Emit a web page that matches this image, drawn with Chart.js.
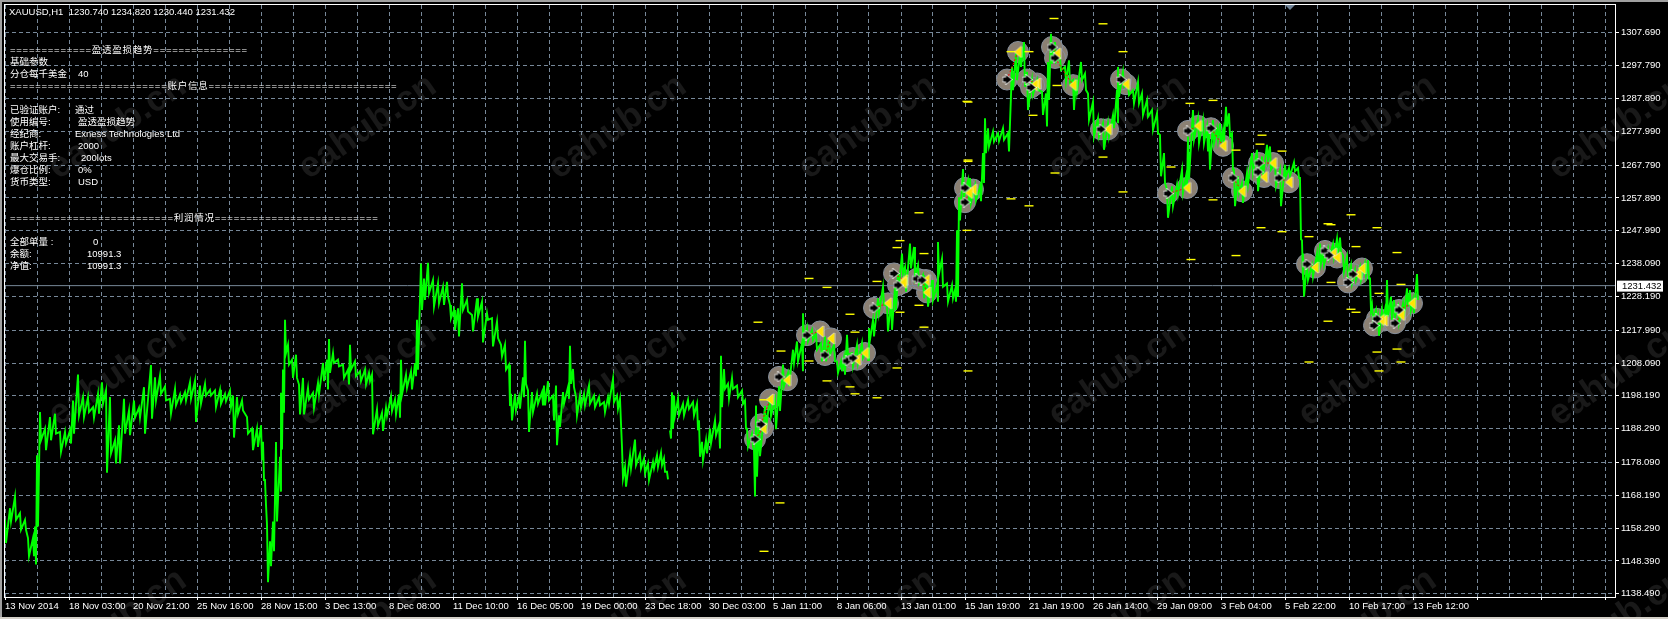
<!DOCTYPE html>
<html><head><meta charset="utf-8">
<style>html,body{margin:0;padding:0;background:#000;overflow:hidden}canvas{display:block}</style>
<script src="https://cdn.jsdelivr.net/npm/chart.js@4"></script>
</head><body><canvas id="c" width="1668" height="619"></canvas>
<script>
const priceTicks=[1307.69,1297.79,1287.89,1277.99,1267.79,1257.89,1247.99,1238.09,1228.19,1217.99,1208.09,1198.19,1188.29,1178.09,1168.19,1158.29,1148.39,1138.49];
const timeLabels=["13 Nov 2014","18 Nov 03:00","20 Nov 21:00","25 Nov 16:00","28 Nov 15:00","3 Dec 13:00","8 Dec 08:00","11 Dec 10:00","16 Dec 05:00","19 Dec 00:00","23 Dec 18:00","30 Dec 03:00","5 Jan 11:00","8 Jan 06:00","13 Jan 01:00","15 Jan 19:00","21 Jan 19:00","26 Jan 14:00","29 Jan 09:00","3 Feb 04:00","5 Feb 22:00","10 Feb 17:00","13 Feb 12:00"];
const lastPrice=1231.432;
const barNumber=[
5,10,15,20,25,28,33,35,37,40,
45,50,55,60,65,70,73,78,83,88,
93,98,102,106,110,115,119,124,129,134,
139,144,151,155,160,165,170,175,180,185,
190,195,200,205,210,215,220,225,230,233,
237,242,247,252,257,261,263,265,267,270,
273,276,280,281,283,285,288,292,296,299,
303,308,313,318,323,327,329,333,338,343,
348,350,355,360,365,369,372,377,382,386,
391,395,399,401,406,411,415,417,421,424,
428,433,438,443,447,450,454,458,462,467,
472,477,482,487,492,497,501,505,509,511,
515,519,523,525,528,532,537,542,544,548,
553,556,559,563,568,570,573,576,580,584,
589,594,599,604,608,613,617,620,622,625,
630,635,640,644,648,653,657,661,664,667,
668,670,672,674,678,683,688,693,697,699,
702,706,710,715,719,721,724,728,732,737,
742,745,747,752,754,756,759,765,770,775,
779,783,788,793,797,802,803,807,812,816,
821,825,829,834,837,841,844,847,852,857,
862,867,869,873,878,883,887,891,895,898,
902,905,910,914,918,923,927,932,937,938,
942,947,952,955,957,959,963,968,970,975,
980,983,985,988,993,998,1003,1008,1012,1016,
1020,1024,1027,1032,1037,1042,1046,1048,1051,1055,
1060,1065,1069,1073,1076,1081,1085,1088,1093,1098,
1103,1108,1113,1117,1118,1123,1128,1133,1138,1142,
1147,1152,1157,1160,1164,1167,1172,1177,1182,1186,
1188,1193,1198,1203,1207,1209,1213,1217,1220,1223,
1226,1229,1232,1234,1238,1242,1247,1252,1257,1262,
1267,1270,1275,1280,1285,1289,1294,1298,1300,1302,
1303,1307,1312,1317,1320,1323,1328,1333,1337,1340,
1343,1347,1351,1355,1360,1365,1368,1370,1372,1376,
1378,1382,1385,1387,1391,1394,1398,1403,1407,1410,
1413,1417];
const barHigh=[
1160.8,1164.3,1167.8,1162.8,1160.8,1155.3,1155.3,1158.8,1180.3,1193.3,
1188.3,1191.8,1192.8,1187.3,1187.3,1187.8,1196.8,1204.6,1197.8,1197.8,
1194.8,1198.8,1202.3,1199.8,1197.8,1184.8,1189.3,1197.3,1193.8,1196.8,
1194.6,1200.8,1207.5,1203.8,1204.3,1201,1197.3,1200.3,1198.6,1199.3,
1202.3,1202.8,1201.3,1201.8,1200,1199.8,1200,1198.8,1199.8,1198.3,
1197.8,1196.8,1191.8,1188.3,1188.3,1189.3,1184.3,1172.8,1159.3,1154.3,
1160.3,1184.3,1179.8,1199.1,1206.1,1221.1,1213.6,1209.1,1210.6,1201.6,
1203.6,1200.6,1199.1,1202.1,1208.1,1209.1,1215.3,1211.1,1209.1,1207.6,
1206.1,1213.6,1208.6,1205.6,1206.1,1205.1,1204.6,1194.1,1193.1,1194.6,
1198.1,1197.1,1198.6,1209.1,1204.6,1205.6,1208.1,1221.1,1238.1,1233.6,
1238.3,1233.1,1232.1,1231.1,1232.6,1225.6,1224.1,1224.6,1232.1,1227.1,
1222.6,1227.6,1226.6,1223.1,1221.6,1220.6,1213.6,1213.6,1207.6,1198.8,
1198.8,1197.8,1203.8,1214.8,1199.8,1199.3,1198.8,1199.3,1201.3,1202.6,
1198.3,1201.3,1192.3,1199.3,1200.8,1213.3,1206.3,1197.8,1198.3,1198.8,
1201.3,1198.3,1197.8,1196.3,1197.8,1203.3,1198.3,1197.3,1182.8,1176.8,
1180.3,1185,1180.8,1179.3,1177.8,1178.3,1180.3,1181,1179.3,1175.3,
null,1187.8,1199.3,1198.3,1197.3,1195.8,1197,1196.3,1195.8,1190.8,
1184.3,1184.8,1188.3,1190.8,1189.3,1210.3,1206.3,1201.8,1203.6,1201.3,
1199.8,1196.8,1188.3,1186.8,1181.8,1195.3,1191,1195.1,1198.1,1197.1,
1201.1,1207.6,1205.1,1212.1,1214.6,1214.1,1223.1,1218.6,1218,1217.1,
1214.1,1216.1,1215.6,1213.6,1208.6,1208.6,1209.6,1216.6,1211.1,1213.6,
1214.1,1212,1218.6,1221.1,1227.6,1231.1,1225.6,1226.6,1231.1,1235.1,
1241.1,1237.1,1244.1,1243.1,1237.6,1234.6,1234.1,1233.1,1231.6,1244.6,
1239.6,1232.1,1231.6,1230.1,1248.1,1258.1,1266.6,1263.1,1263.9,1261.6,
1261.4,1271.4,1281.9,1278.9,1277.9,1277.4,1278.9,1277.4,1297.4,1301.4,
1301.4,1304.9,1295.9,1293.4,1293.4,1289.9,1289.4,1298.9,1307.4,1304.9,
1300.4,1297.4,1299.4,1293.4,1293.9,1298.9,1295.4,1289.4,1286.9,1281.9,
1280.4,1280.4,1282.9,1290.4,1297.4,1295.9,1292.4,1290.4,1292.9,1289.4,
1287.4,1284.4,1283.4,1276.9,1271.4,1260.4,1261.4,1261.9,1266.4,1264.4,
1276.4,1284.4,1281.9,1281.4,1279.4,1277.4,1281.4,1278.9,1280.4,1278.4,
1285.4,1283.4,1277.4,1266.4,1264.4,1262.4,1265.4,1271.4,1272.4,1270.4,
1273.9,1273.4,1268.4,1266.4,1267.9,1266.9,1268.6,1266.9,1263.9,1245.1,
1241.1,1238.1,1237.6,1241.1,1244.1,1241.1,1242.6,1244.1,1245.6,1245.9,
1240.6,1240.1,1237.6,1236.1,1237.1,1238.1,1239.1,1233.6,1225.6,1224.1,
1222.1,1224.1,1224.1,1233.1,1228.1,1227.1,1225.1,1226.1,1230.6,1230.1,
1227.1,1234.9];
const barLow=[
1153.8,1160.3,1160.8,1157.8,1157.8,1149.8,1149.8,1147.3,1158.8,1184.8,
1181.8,1184.8,1186.8,1181.3,1183.8,1183.8,1186.8,1192.3,1191.8,1193.3,
1191.6,1192.8,1195.8,1175,1180.8,1177.8,1177.8,1186.8,1186.3,1191.6,
1191.6,1186.8,1191.3,1196.8,1198.8,1196.8,1192.8,1195.3,1196.3,1196.8,
1197.3,1190.3,1195.8,1198.3,1198.3,1194.8,1195.8,1196.6,1194.8,1185.6,
1192.8,1193.8,1186.8,1181.8,1182.8,1178.8,1172.8,1165.3,1142,1146.8,
1151.3,1160.3,1169.3,1182,1193.1,1211.1,1207.6,1203.6,1203.6,1192.6,
1192.6,1197.1,1194.6,1198.6,1202.6,1200.1,1205.1,1208.1,1207.1,1203.6,
1201.6,1206.1,1204.1,1202.6,1201.6,1202.6,1186.6,1189.1,1187.6,1192.1,
1193.6,1192.6,1191.6,1198.6,1200.6,1200.1,1204.1,1206.1,1224.1,1227.1,
1229.1,1225.1,1226.1,1225.6,1228.1,1221.6,1218.1,1216.1,1224.1,1223.6,
1217.6,1222.1,1214.3,1221.1,1213.1,1215.6,1210.1,1206.1,1195.1,1190.8,
1193.8,1194.3,1197.8,1201.8,1187.3,1193.3,1195.8,1195.3,1195.3,1196.8,
1190.8,1183.3,1188.8,1195.8,1197.3,1201.8,1200.8,1192.3,1194.8,1195.3,
1195.8,1194.8,1195.3,1193.3,1195.8,1196.3,1194.3,1189.8,1173.3,1170.8,
1176.3,1177.3,1176.3,1174.8,1172.8,1176.3,1176.8,1177.3,1175.3,1173,
null,1185.3,1188.3,1192.3,1192.3,1192.3,1194.3,1192.3,1187.8,1179.8,
1178.8,1180.8,1183.8,1186.3,1182.3,1194.8,1200.3,1197.3,1200.3,1197.8,
1195.8,1188.3,1182.8,1182.8,1167.8,1173.8,1180,1188.1,1192.1,1188.1,
1193.6,1201.1,1201.1,1208.1,1208.6,1205.6,1214.1,1214.6,1215,1212.1,
1208.6,1208.6,1210.6,1208.6,1205.1,1205.6,1204.6,1210.6,1207.1,1208.1,
1209.6,1209,1215.1,1216.1,1223.1,1225.6,1217.6,1218.1,1224.1,1230.6,
1235.1,1229.6,1236.6,1234.1,1232.1,1227.6,1225.1,1227.1,1226.6,1235.1,
1231.1,1226.6,1227.6,1226.6,1228.1,1251.1,1258.1,1256.1,1256.4,1257.1,
1256.9,1262.4,1271.4,1273.4,1274.9,1275,1275.4,1271.9,1290.4,1293.4,
1297.4,1291.4,1284.4,1289,1290.4,1282.9,1279.4,1287.4,1298.4,1298.9,
1296.4,1292.9,1292.4,1284.4,1289.9,1293.4,1290.4,1281.4,1276.4,1276.4,
1272.4,1276.4,1278.9,1280.4,1288.4,1291.4,1288.9,1286.4,1286.4,1282.9,
1282.4,1278.4,1277.4,1264.4,1262.4,1251.9,1255.4,1258.9,1259.4,1260.9,
1263.4,1275.4,1274.4,1274.4,1271.9,1266.4,1274.4,1275.4,1274.4,1274.4,
1279.4,1276.4,1266.4,1255.4,1259.4,1256.4,1261.9,1265.4,1259.9,1264.4,
1269.4,1266.4,1261.4,1255.4,1264.4,1264.4,1265.9,1263.9,1245.4,1233.1,
1228.1,1233.1,1234.1,1235.6,1238.1,1237.6,1239.6,1240.1,1241.1,1241.6,
1235.6,1233.6,1232.1,1233.1,1233.1,1234.6,1233.6,1224.1,1221.1,1220.1,
1216.3,1220.6,1221.1,1222.1,1221.1,1222.1,1220.1,1222.1,1225.1,1224.1,
1223.1,1227.1];
const buyBars=[755,761,779,807,825,847,853,874,894,898,917,922,965,965,1007,1027,1031,1052,1055,1101,1121,1168,1188,1211,1233,1259,1258,1279,1307,1325,1329,1348,1353,1377,1374,1395,1399];
const buyPrices=[1185.1,1189.6,1203.9,1216.5,1210.5,1208.7,1209.6,1224.7,1235.1,1231.6,1233.5,1233.1,1260.9,1256.6,1293.6,1293.6,1291.2,1303.4,1300.1,1278.6,1293.6,1259.2,1278.1,1278.9,1263.9,1268.4,1265.7,1263.9,1237.9,1241.9,1240.6,1232.4,1234.9,1221.4,1219.4,1220.1,1224.1];
const closeBars=[763,770,787,820,831,857,865,888,904,903,926,927,973,969,1018,1037,1034,1057,1073,1108,1126,1187,1198,1223,1242,1273,1264,1289,1315,1333,1337,1358,1362,1384,1381,1401,1412];
const closePrices=[1188.4,1197.1,1202.9,1217.6,1215.5,1209.1,1211.1,1226.1,1233.1,1232.3,1233.1,1229.4,1260.4,1259.4,1301.9,1292.4,1291.9,1301.4,1291.9,1278.6,1292.2,1260.9,1279.6,1273.6,1259.9,1268.4,1264.2,1262.6,1236.9,1241.1,1239.9,1234.9,1236.6,1220.9,1221.1,1222.6,1226.1];
const stopBars=[809,827,758,850,855,781,809,827,850,855,877,764,897,968,877,897,900,924,900,919,924,967,780,764,919,968,968,1103,1123,1011,1029,967,1033,1057,1103,968,1055,1171,1123,1011,1029,1190,1054,1213,1262,1260,1236,1282,1213,1261,1282,1309,1351,1328,1331,1377,1356,1236,1397,1191,1331,1401,1379,1351,1356,1328,1397,1377,1309,1401,1379];
const stopPrices=[1233.6,1230.9,1220.4,1222.8,1217.4,1211.7,1208.7,1202.7,1200.9,1198.8,1197.6,1197,1206.6,1205.7,1232.7,1242.9,1245,1241.1,1223.4,1225.5,1218.9,1248.1,1165.9,1151.3,1253.4,1286.8,1268.9,1310.4,1302,1302,1302,1287,1282.8,1291.8,1270.2,1269.3,1265.4,1267.2,1259.7,1257.6,1255.5,1286.4,1312,1287.3,1276.8,1274.1,1272.3,1272,1257.3,1248.9,1247.7,1246.2,1252.8,1250.1,1249.8,1248.9,1243.2,1240.5,1241.4,1239.3,1232.4,1231.8,1229.1,1224.3,1223.4,1220.7,1212.3,1211.4,1208.4,1208.4,1205.7];
const headerLine="XAUUSD,H1  1230.740 1234.820 1230.440 1231.432";
const panelLines=[
[10,50,"=============盈透盈损趋势==============="],
[10,62,"基础参数"],[10,74,"分仓每千美金"],[78,74,"40"],
[10,86,"=========================账户信息=============================="],
[10,110,"已验证账户:"],[75,110,"通过"],
[10,122,"使用编号:"],[78,122,"盈透盈损趋势"],
[10,134,"经纪商:"],[75,134,"Exness Technologies Ltd"],
[10,146,"账户杠杆:"],[78,146,"2000"],
[10,158,"最大交易手:"],[81,158,"200lots"],
[10,170,"爆仓比例:"],[78,170,"0%"],
[10,182,"货币类型:"],[78,182,"USD"],
[10,218,"==========================利润情况=========================="],
[10,242,"全部单量 :"],[93,242,"0"],
[10,254,"余额:"],[87,254,"10991.3"],
[10,266,"净值:"],[87,266,"10991.3"]];
const watermark="eahub.cn";

const FONT='"Liberation Sans","Noto Sans CJK SC",sans-serif';
const GRID='#778899';
const xMin=5,xMax=1615;

function icon(w,h,draw){const c=document.createElement('canvas');c.width=w;c.height=h;draw(c.getContext('2d'));return c;}
const arrowIcon=icon(11,11,g=>{g.beginPath();[[1.5,3.5],[4.5,3.5],[4.5,1],[10,5.5],[4.5,10],[4.5,7.5],[1.5,7.5]].forEach((p,i)=>i?g.lineTo(p[0],p[1]):g.moveTo(p[0],p[1]));g.closePath();g.lineWidth=1.4;g.strokeStyle='#fff';g.stroke();g.fillStyle='#000';g.fill();});
const triIcon=icon(9,13,g=>{g.beginPath();g.moveTo(1,6.5);g.lineTo(7.8,1);g.lineTo(7.8,12);g.closePath();g.lineWidth=1;g.strokeStyle='#fff';g.stroke();g.fillStyle='#ffe400';g.fill();});

const pricePath=[];
barNumber.forEach((b,i)=>{pricePath.push({x:b,y:barHigh[i]});pricePath.push({x:b+1,y:barLow[i]});});
const pts=(xs,ys)=>xs.map((x,i)=>({x,y:ys[i]}));
const links=[];
buyBars.forEach((b,i)=>{links.push({x:b,y:buyPrices[i]},{x:closeBars[i],y:closePrices[i]},{x:b,y:null});});

const decor={id:'decor',
beforeDraw(ch){const g=ch.ctx,W=ch.width,H=ch.height;g.save();
 g.fillStyle='#000';g.fillRect(0,0,W,H);
 g.fillStyle='#191919';g.font='bold 36px "Liberation Sans"';g.textBaseline='alphabetic';
 for(let ry=0;ry<3;ry++)for(let k=0;k<7;k++){g.save();g.translate(58+250*k,180+247*ry);g.rotate(-0.6);g.fillText(watermark,0,0);g.restore();}
 g.fillStyle='#a0a0a0';g.fillRect(0,0,W,2);g.fillRect(0,0,2,H);
 g.fillStyle='#d4d0c8';g.fillRect(0,H-2,W,2);
 g.restore();},
afterDraw(ch){const g=ch.ctx,a=ch.chartArea,y=ch.scales.y;g.save();
 g.strokeStyle='#fff';g.lineWidth=1;g.strokeRect(Math.round(a.left)-.5,Math.round(a.top)-.5,Math.round(a.right-a.left)+1,Math.round(a.bottom-a.top)+1);
 g.fillStyle='#6f8296';g.beginPath();g.moveTo(1285,5);g.lineTo(1295,5);g.lineTo(1290,10);g.closePath();g.fill();
 const py=y.getPixelForValue(lastPrice);
 g.fillStyle='#fff';g.fillRect(1617,py-5,46,11);
 g.fillStyle='#000';g.font='9.5px '+FONT;g.textBaseline='middle';g.textAlign='left';g.fillText(lastPrice.toFixed(3),1622,py+.5);
 g.fillStyle='#fff';g.fillText(headerLine,9,12.5);
 panelLines.forEach(([x,yy,t])=>{g.letterSpacing=t.startsWith('=')?'0.75px':'0px';g.fillText(t,x,yy);});
 g.letterSpacing='0px';g.restore();}};

new Chart(document.getElementById('c'),{type:'scatter',
data:{datasets:[
 {label:'buy zone',data:pts(buyBars,buyPrices),pointStyle:'circle',pointRadius:10.5,pointBackgroundColor:'#8b8073',pointBorderColor:'#87909c',pointBorderWidth:1,order:9},
 {label:'close zone',data:pts(closeBars,closePrices),pointStyle:'circle',pointRadius:10.5,pointBackgroundColor:'#8b8073',pointBorderColor:'#87909c',pointBorderWidth:1,order:9},
 {label:'XAUUSD',data:pricePath,showLine:true,borderColor:'#00ff00',borderWidth:1.9,pointRadius:0,spanGaps:false,order:7},
 {label:'last',data:[{x:xMin,y:lastPrice},{x:xMax,y:lastPrice}],showLine:true,borderColor:GRID,borderWidth:1,pointRadius:0,order:8},
 {label:'stops',data:pts(stopBars,stopPrices),pointStyle:'line',pointRadius:4.5,borderColor:'#ffff00',backgroundColor:'#ffff00',borderWidth:1.4,order:5},
 {label:'links',data:links,showLine:true,borderColor:'#ff0000',borderWidth:1,borderDash:[2,2],pointRadius:0,spanGaps:false,order:4},
 {label:'close',data:pts(closeBars,closePrices),pointStyle:triIcon,order:3},
 {label:'buy',data:pts(buyBars,buyPrices),pointStyle:arrowIcon,order:2}
]},
options:{responsive:false,animation:false,devicePixelRatio:1,
 layout:{autoPadding:false,padding:{left:5,top:5,right:0,bottom:0}},
 plugins:{legend:{display:false},tooltip:{enabled:false},title:{display:false}},
 scales:{
  x:{type:'linear',min:xMin,max:xMax,
   afterFit(s){s.height=22;s.paddingLeft=0;s.paddingRight=0;},
   afterBuildTicks(s){const t=[];for(let v=xMin;v<=xMax;v+=32)t.push({value:v});s.ticks=t;},
   grid:{color:GRID,lineWidth:1,tickLength:3,tickColor:c=>(c.index%2?'rgba(0,0,0,0)':'#fff')},
   border:{display:false,dash:[4,3]},
   ticks:{autoSkip:false,maxRotation:0,minRotation:0,align:'start',padding:1,color:'#fff',font:{family:FONT,size:9.5},
    callback(v,i){return i%2?'':(timeLabels[i/2]||'');}}},
  y:{type:'linear',position:'right',min:1137.52,max:1316.07,
   afterFit(s){s.width=53;s.paddingTop=0;s.paddingBottom=0;},
   afterBuildTicks(s){s.ticks=priceTicks.map(v=>({value:v}));},
   grid:{color:GRID,lineWidth:1,tickLength:4,tickColor:'#fff'},
   border:{display:false,dash:[4,3]},
   ticks:{autoSkip:false,padding:2,color:'#fff',font:{family:FONT,size:9.5},callback:v=>v.toFixed(3)}}
 }},
plugins:[decor]});
</script></body></html>
